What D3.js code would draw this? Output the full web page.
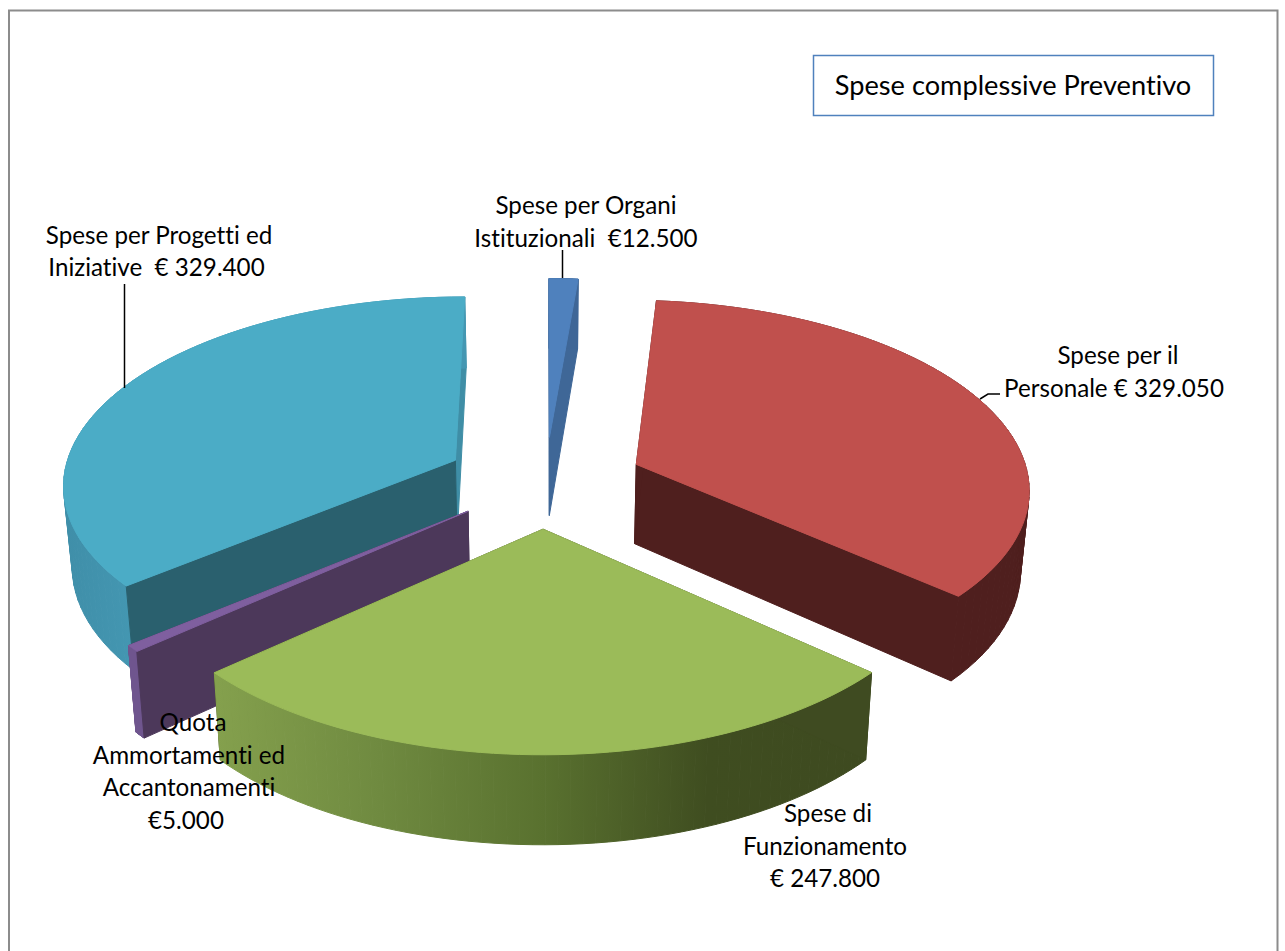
<!DOCTYPE html>
<html>
<head>
<meta charset="utf-8">
<script src="https://cdn.jsdelivr.net/npm/d3@7"></script>
<style>
  body { margin: 0; background: #fff; }
  text { font-family: Lato, "Open Sans", sans-serif; font-size: 24.2px; font-variant-ligatures: none; fill: #000; text-anchor: middle; }
  .title { font-size: 27.2px; }
</style>
</head>
<body>
<svg id="chart" width="1285" height="951"></svg>
<script>
const categories = [
  "Spese per Organi Istituzionali",
  "Spese per il Personale",
  "Spese di Funzionamento",
  "Quota Ammortamenti ed Accantonamenti",
  "Spese per Progetti ed Iniziative",
];
const values = [12500, 329050, 247800, 5000, 329400];
const labelLines = [
  ["Spese per Organi", "Istituzionali  €12.500"],
  ["Spese per il", "Personale € 329.050"],
  ["Spese di", "Funzionamento", "€ 247.800"],
  ["Quota", "Ammortamenti ed", "Accantonamenti", "€5.000"],
  ["Spese per Progetti ed", "Iniziative  € 329.400"],
];
const title = "Spese complessive Preventivo";

// colours per slice, same order as categories
const topColors = ["#4f81bd", "#c0504d", "#9bbb59", "#7f5f9f", "#4bacc6"];
const rimColors = ["#3f6797", "#4f1f1e", "url(#greenRim)", "#70568f", "url(#tealRim)"];
const startCutColors = ["#3f6797", "#4f1f1e", "#3f4b21", "#4c385a", "#2a606e"];
const endCutColors = ["#3f6797", "#4f1f1e", "#3f4b21", "#4c385a", "#3f8ea6"];
// how far each slice is pulled out, in pie radii
const explode = [0.24, 0.25, 0.25, 0.25, 0.258];
// back to front
const drawOrder = [4, 0, 1, 3, 2];

// fake 3D: pie plane seen in perspective
const cx = 545.5, cy = 481, scaleX = 393, scaleY = 187, persp = 0.117;
const thinX = 0.982;
// the original view is turned a little at the front
const turn = 1.7 * Math.PI / 180;
const warp = (t) => t - turn * (1 - Math.cos(t)) / 2;

function project(X, Y) {
  const w = 1 + persp * Y;
  return [cx + scaleX * X / w, cy - scaleY * Y / w];
}
function lower(X, Y) {
  const p = project(X, Y);
  return [cx + (p[0] - cx) * thinX, p[1] + 80 - 8 * Y];
}

const svg = d3.select("#chart");
const line = d3.line();
const closed = (pts) => line(pts) + "Z";

const defs = svg.append("defs");
const addGrad = (id, x1, x2, stops) => {
  const g = defs.append("linearGradient")
    .attr("id", id)
    .attr("gradientUnits", "userSpaceOnUse")
    .attr("x1", x1).attr("x2", x2)
    .attr("y1", 0).attr("y2", 0);
  stops.forEach((s) => g.append("stop").attr("offset", s[0]).attr("stop-color", s[1]));
};
addGrad("greenRim", 217, 871, [[0, "#84a04d"], [0.25, "#6f8a40"], [0.5, "#59712f"], [0.75, "#3f4d20"], [1, "#3e4a20"]]);
addGrad("tealRim", 63, 135, [[0, "#3f8ea8"], [1, "#4497b2"]]);

// frame of the picture, open at the bottom
svg.append("path")
  .attr("d", "M9,951V10.5H1277.5V951")
  .attr("fill", "none")
  .attr("stroke", "#8c8c8c")
  .attr("stroke-width", 2);

const arcs = d3.pie().sort(null).startAngle(0).endAngle(2 * Math.PI)(values);

drawOrder.forEach((i) => {
  const a = arcs[i];
  const mid = (a.startAngle + a.endAngle) / 2;
  const ox = Math.sin(mid) * explode[i];
  const oy = Math.cos(mid) * explode[i];
  const steps = d3.range(0, 61).map((s) => warp(a.startAngle + (a.endAngle - a.startAngle) * s / 60));
  const rim = steps.map((t) => [ox + Math.sin(t), oy + Math.cos(t)]);
  const first = rim[0];
  const last = rim[rim.length - 1];
  const g = svg.append("g").attr("class", "slice").attr("data-name", categories[i]);

  const face = (pts, fill) =>
    g.append("path")
      .attr("d", closed(pts))
      .attr("fill", fill)
      .attr("stroke", fill)
      .attr("stroke-width", 1)
      .attr("stroke-linejoin", "round");

  face([project(ox, oy), project(last[0], last[1]), lower(last[0], last[1]), lower(ox, oy)], endCutColors[i]);
  // rim as separate quads, one polygon folds over itself at the sides and leaves holes
  d3.pairs(rim).forEach((q) => {
    face([project(q[0][0], q[0][1]), project(q[1][0], q[1][1]), lower(q[1][0], q[1][1]), lower(q[0][0], q[0][1])], rimColors[i]);
  });
  face([project(ox, oy), project(first[0], first[1]), lower(first[0], first[1]), lower(ox, oy)], startCutColors[i]);
  // own stroke on top hides the darker rim strokes along the back edge
  face([project(ox, oy)].concat(rim.map((p) => project(p[0], p[1]))), topColors[i]);
});

// leader lines
const leaders = [
  "M562.5,278V250",
  "M980,399L988,394H1000",
  "M124.5,388V284",
];
svg.selectAll(".leader")
  .data(leaders)
  .enter()
  .append("path")
  .attr("class", "leader")
  .attr("d", (d) => d)
  .attr("fill", "none")
  .attr("stroke", "#000")
  .attr("stroke-width", 1.5);

// label placement, one x per line because the source text has stray spaces
const labelPos = [
  { x: [586, 586], y: 214 },
  { x: [1118, 1114], y: 364 },
  { x: [828, 825, 825], y: 822 },
  { x: [193, 189, 189, 186], y: 731 },
  { x: [159, 156.5], y: 243.5 },
];
const lineGap = 32.5;
labelLines.forEach((lines, i) => {
  const t = svg.append("text");
  lines.forEach((s, j) => {
    t.append("tspan")
      .attr("x", labelPos[i].x[j])
      .attr("y", labelPos[i].y + j * lineGap)
      .attr("xml:space", "preserve")
      .text(s);
  });
});

// title box
svg.append("rect")
  .attr("x", 813.5).attr("y", 55.5)
  .attr("width", 400).attr("height", 60)
  .attr("fill", "#fff")
  .attr("stroke", "#4f81bd")
  .attr("stroke-width", 1.5);
svg.append("text")
  .attr("class", "title")
  .attr("x", 1013).attr("y", 94.5)
  .text(title);
</script>
</body>
</html>
